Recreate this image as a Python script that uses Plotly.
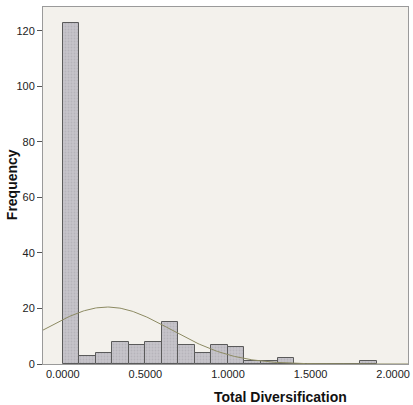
import numpy as np
import plotly.graph_objects as go

bin_starts = [0.0, 0.1, 0.2, 0.3, 0.4, 0.5, 0.6, 0.7, 0.8, 0.9, 1.0, 1.1, 1.2, 1.3, 1.4, 1.5, 1.6, 1.7, 1.8]
counts = [123, 3, 4, 8, 7, 8, 15, 7, 4, 7, 6, 1, 1, 2, 0, 0, 0, 0, 1]
bin_width = 0.1
fit_mean = 0.27
fit_sd = 0.383
x_tickvals = [0.0, 0.5, 1.0, 1.5, 2.0]
x_ticklabels = ["0.0000", "0.5000", "1.0000", "1.5000", "2.0000"]
y_tickvals = [0, 20, 40, 60, 80, 100, 120]

n_total = sum(counts)
centers = [b + bin_width / 2 for b in bin_starts]

xs = np.linspace(-0.12, 2.09, 300)
ys = n_total * bin_width / (fit_sd * np.sqrt(2 * np.pi)) * np.exp(-0.5 * ((xs - fit_mean) / fit_sd) ** 2)

W, H = 413, 405
l, r, t, b = 43, 3, 7, 41
pw, ph = W - l - r, H - t - b

def px_x(p):
    return (p - l) / pw

def px_y(p):
    return (H - b - p) / ph

fig = go.Figure()
fig.add_trace(go.Bar(
    x=centers, y=counts, width=bin_width,
    marker=dict(color="#c6c4ca", line=dict(color="#5a5a5a", width=1),
                pattern=dict(shape=".", fgcolor="#a6a4aa", size=3, solidity=0.3)),
    showlegend=False,
))
fig.add_trace(go.Scatter(
    x=xs, y=ys, mode="lines", line=dict(color="#8c8a62", width=1), showlegend=False,
))

font_family = "Liberation Sans, Arial, sans-serif"
fig.update_layout(
    width=W, height=H,
    margin=dict(l=l, r=r, t=t, b=b),
    paper_bgcolor="white",
    plot_bgcolor="#f3f1ec",
    bargap=0,
    font=dict(family=font_family, size=11, color="#222"),
    xaxis=dict(range=[-0.12, 2.09], tickvals=x_tickvals, ticktext=x_ticklabels,
               showgrid=False, zeroline=False, ticks="", showline=True,
               linecolor="#9a9a9a", mirror=True, linewidth=1,
               tickfont=dict(size=11)),
    yaxis=dict(range=[0, 128.6], tickvals=y_tickvals, showgrid=False, zeroline=False,
               ticks="outside", ticklen=5, tickcolor="#555", showline=True,
               linecolor="#9a9a9a", mirror=True, linewidth=1,
               tickfont=dict(size=11)),
    annotations=[
        dict(text="<b>Total Diversification</b>", x=px_x(282), y=px_y(397),
             xref="paper", yref="paper", xanchor="center", yanchor="middle",
             showarrow=False, font=dict(size=14, color="#111")),
        dict(text="<b>Frequency</b>", x=px_x(12), y=px_y(185),
             xref="paper", yref="paper", xanchor="center", yanchor="middle",
             showarrow=False, textangle=-90, font=dict(size=14, color="#111")),
    ],
)

fig.write_html("out.html")
